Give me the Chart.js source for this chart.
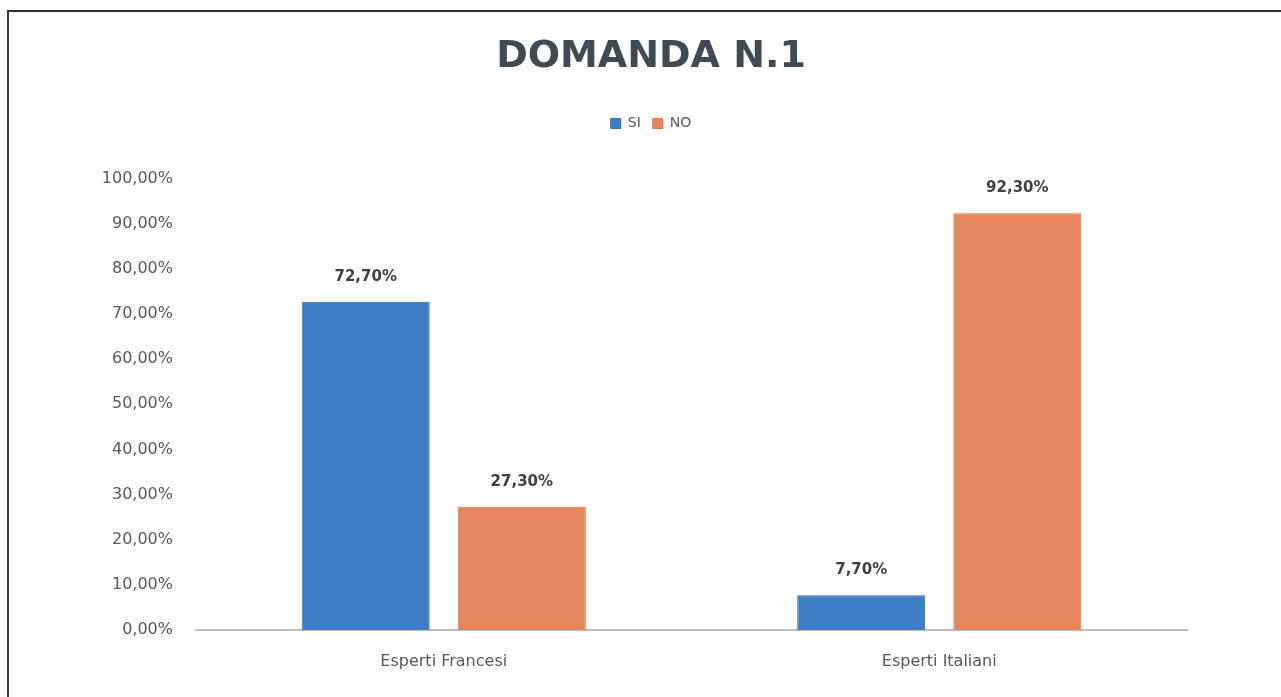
<!DOCTYPE html>
<html>
<head>
<meta charset="utf-8">
<script src="https://cdn.jsdelivr.net/npm/chart.js@4/dist/chart.umd.min.js"></script>
<style>
  html, body { margin: 0; padding: 0; background: #fff; overflow: hidden; }
  #frame { position: absolute; left: 7px; top: 10px; width: 2000px; height: 2000px;
           border-left: 2px solid #3a3a3a; border-top: 2px solid #2e2e2e; }
  #myBarChart { position: absolute; left: 0; top: 0; }
</style>
</head>
<body>
<div id="frame"></div>
<canvas id="myBarChart" width="1281" height="697"></canvas>
<script>
// dati del grafico
const categorie = ["Esperti Francesi", "Esperti Italiani"];
const valoriSi = [72.7, 7.7];
const valoriNo = [27.3, 92.3];
const etichetteSerie = ["SI", "NO"];

// formato percentuale con la virgola
function formatta(v) {
  return v.toFixed(2).replace(".", ",") + "%";
}

// etichette sopra le barre
const etichetteBarre = {
  id: "etichetteBarre",
  afterDatasetsDraw(chart) {
    const ctx = chart.ctx;
    ctx.save();
    ctx.font = "bold 15px 'DejaVu Sans'";
    ctx.fillStyle = "#404040";
    ctx.textAlign = "center";
    ctx.textBaseline = "middle";
    chart.data.datasets.forEach((ds, i) => {
      chart.getDatasetMeta(i).data.forEach((bar, j) => {
        ctx.fillText(formatta(ds.data[j]), bar.x, bar.y - 25);
      });
    });
    ctx.restore();
  }
};

// spazio tra legenda e grafico
const spazioLegenda = {
  id: "spazioLegenda",
  beforeInit(chart) {
    const fit = chart.legend.fit;
    chart.legend.fit = function () {
      fit.bind(this)();
      this.height += 38;
    };
  }
};

const ctx = document.getElementById("myBarChart").getContext("2d");

const myBarChart = new Chart(ctx, {
  type: "bar",
  data: {
    labels: categorie,
    datasets: [
      {
        label: etichetteSerie[0],
        data: valoriSi,
        backgroundColor: "#3d7dc4",
        borderColor: "#2f6cae",
        borderWidth: 1
      },
      {
        label: etichetteSerie[1],
        data: valoriNo,
        backgroundColor: "#e7865c",
        borderColor: "#d9764c",
        borderWidth: 1
      }
    ]
  },
  options: {
    responsive: false,
    animation: false,
    layout: { padding: { top: 14, right: 94, left: 115, bottom: 0 } },
    datasets: {
      bar: { categoryPercentage: 0.63, barPercentage: 0.82 }
    },
    plugins: {
      title: {
        display: true,
        text: "DOMANDA N.1",
        color: "#3f4a52",
        font: { family: "DejaVu Sans", size: 38, weight: "bold" },
        padding: { top: 20, bottom: 25 }
      },
      legend: {
        display: true,
        labels: {
          boxWidth: 10,
          boxHeight: 10,
          padding: 12,
          color: "#595959",
          font: { family: "DejaVu Sans", size: 14 }
        }
      },
      tooltip: { enabled: false }
    },
    scales: {
      x: {
        grid: { display: false },
        border: { display: true, color: "#bfbfbf", width: 2 },
        ticks: {
          color: "#595959",
          padding: 14,
          font: { family: "DejaVu Sans", size: 16 }
        },
        afterFit(scale) { scale.height = 67; }
      },
      y: {
        min: 0,
        max: 100,
        grid: { display: false },
        border: { display: false },
        ticks: {
          stepSize: 10,
          color: "#595959",
          padding: 15,
          font: { family: "DejaVu Sans", size: 16 },
          callback: (v) => formatta(v)
        },
        afterFit(scale) {
          scale.width = 81;
          // le etichette escono a sinistra dell'asse: niente ritaglio
          scale._computeLabelArea = () => undefined;
        }
      }
    }
  },
  plugins: [etichetteBarre, spazioLegenda]
});
</script>
</body>
</html>
